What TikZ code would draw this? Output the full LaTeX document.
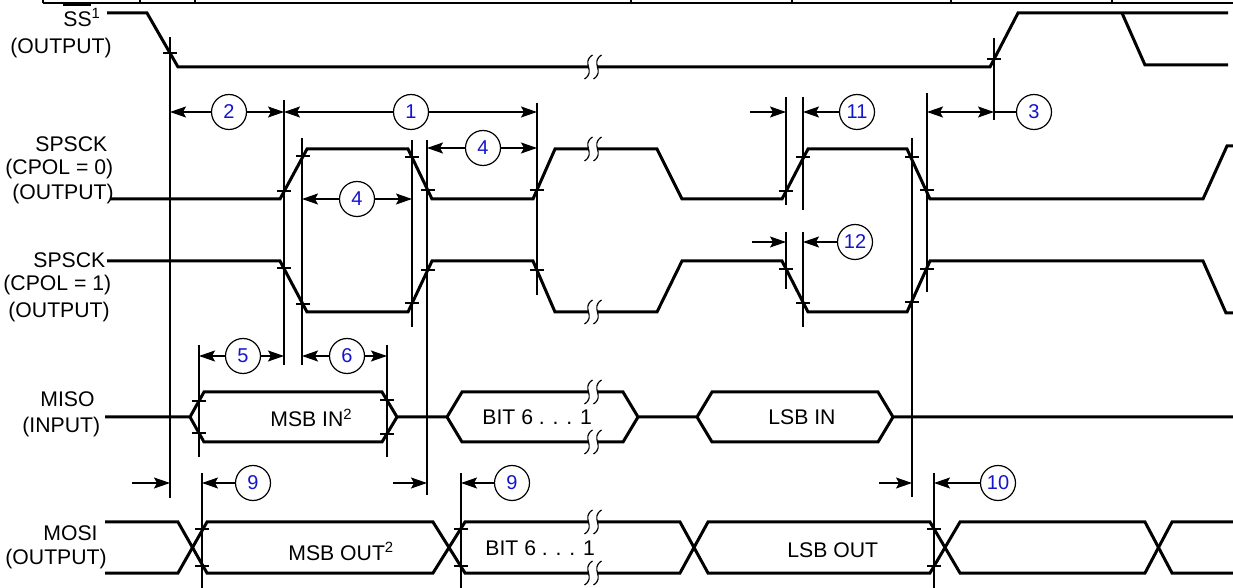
\documentclass[tikz,border=0pt]{standalone}
\usepackage{fontspec}
\setmainfont{Liberation Sans}
\usetikzlibrary{arrows.meta}
\definecolor{numblue}{RGB}{20,20,205}
\newcommand{\sbreak}[2]{%
  \begin{scope}[shift={(#1,#2)}]
    \fill[white] (-0.5,-12) .. controls (-12.5,-4) and (3.5,4) .. (-8.5,12) -- (0.5,12)
      .. controls (12.5,4) and (-3.5,-4) .. (8.5,-12) -- cycle;
    \draw[line width=0.6pt] (-0.5,-12) .. controls (-12.5,-4) and (3.5,4) .. (-8.5,12);
    \draw[line width=0.6pt] (8.5,-12) .. controls (-3.5,-4) and (12.5,4) .. (0.5,12);
  \end{scope}}

\begin{document}
\begin{tikzpicture}[x=0.5pt,y=-0.5pt,>={Stealth[length=8pt,width=5.5pt,inset=1.5pt]},
    font=\fontsize{10.6pt}{12pt}\selectfont,
    sig/.style={line width=1.5pt},
    guide/.style={line width=0.6pt},
    num/.style={circle,draw,line width=0.6pt,minimum size=17.5pt,inner sep=0pt,
      text=numblue,font=\fontsize{10pt}{11pt}\selectfont},
    lbl/.style={anchor=base west,inner sep=0pt}]
  \useasboundingbox (0,0) rectangle (1233,588);
  \draw[line width=0.8pt] (43,3) -- (1233,3);
  \foreach \x in {43,140,195,631,792,951,1112}
    \draw[line width=0.8pt] (\x,0) -- (\x,3);

  \foreach \Name/\Point/\Text in {ssA/{(63,26.5)}/{\makebox[0pt][l]{\rule[10.2pt]{14pt}{1.1pt}}SS\textsuperscript{1}},
      ssB/{(10,54)}/{(OUTPUT)}, ckA/{(35,151.5)}/{SPSCK}, ckB/{(5,175)}/{(CPOL = 0)},
      ckC/{(12,200)}/{(OUTPUT)}, cklA/{(33,268)}/{SPSCK}, cklB/{(3,290.5)}/{(CPOL = 1)},
      cklC/{(8,317.5)}/{(OUTPUT)}, misoA/{(40,406.5)}/{MISO}, misoB/{(22,432.5)}/{(INPUT)},
      mosiA/{(43,540)}/{MOSI}, mosiB/{(5,564)}/{(OUTPUT)},
      msbin/{(270,427)}/{MSB IN\textsuperscript{2}}, bitin/{(482,425)}/{BIT 6 . . . 1},
      lsbin/{(768,425)}/{LSB IN}, msbout/{(288,560)}/{MSB OUT\textsuperscript{2}},
      bitout/{(485,555)}/{BIT 6 . . . 1}, lsbout/{(787,557)}/{LSB OUT}}
    \node[lbl] (\Name) at \Point {\Text};

  \foreach \x/\ya/\yb in {170/37/498, 284/100/365, 302/138/365, 199/345/457, 387/345/457,
      412/140/327, 427/140/495, 537/103/295, 786/97/205, 786/232/289, 803/97/210,
      803/232/327, 912/138/497, 927/93/292, 994/38/120, 202/473/588, 461/473/588, 934/473/588}
    \draw[guide] (\x,\ya) -- (\x,\yb);
  \foreach \Point in {(170,53),(994,59),(284,191),(303,156),(412,157),(428,190),(537,190),
      (786,191),(803,157),(912,157),(927,190),(284,268),(303,304),(412,303),(428,270),
      (537,270),(786,269),(803,303),(912,302),(927,269),(199,401),(199,433),(387,400),
      (387,434),(202,529),(202,566),(461,529),(461,566),(934,529),(934,566)}
    \draw[guide] \Point ++(-7,0) -- ++(14,0);

  \draw[sig] (107,13) -- (147,13) -- (178,67) -- (990,67) -- (1018,13) -- (1228,13);
  \draw[sig] (1122,13) -- (1145,65) -- (1228,65);
  \draw[sig] (110,199) -- (280,199) -- (307,149) -- (408,149) -- (432,199) -- (533,199)
    -- (555,149) -- (657,149) -- (682,199) -- (782,199) -- (808,149) -- (907,149)
    -- (930,199) -- (1203,199) -- (1227,146) -- (1233,146);
  \draw[sig] (107,261) -- (280,261) -- (307,312) -- (408,312) -- (432,261) -- (533,261)
    -- (555,312) -- (657,312) -- (682,261) -- (782,261) -- (808,312) -- (907,312)
    -- (930,261) -- (1203,261) -- (1226,313) -- (1233,313);
  \draw[sig] (105,417) -- (190,417) -- (204,392) -- (382,392) -- (397,417) -- (447,417)
    -- (462,392) -- (623,392) -- (638,417) -- (697,417) -- (712,392) -- (878,392)
    -- (893,417) -- (1233,417);
  \draw[sig] (190,417) -- (204,442) -- (382,442) -- (397,417);
  \draw[sig] (447,417) -- (462,442) -- (623,442) -- (638,417);
  \draw[sig] (697,417) -- (712,442) -- (878,442) -- (893,417);
  \draw[sig] (105,522) -- (178,522) -- (207,573) -- (433,573) -- (465,522) -- (680,522)
    -- (708,573) -- (930,573) -- (960,522) -- (1145,522) -- (1172,573) -- (1233,573);
  \draw[sig] (105,573) -- (178,573) -- (207,522) -- (433,522) -- (465,573) -- (680,573)
    -- (708,522) -- (930,522) -- (960,573) -- (1145,573) -- (1172,522) -- (1233,522);
  \foreach \y in {67,149,312,392,442,522,573}
    \sbreak{593}{\y};

  \foreach \Name/\Point/\Label in {n1/{(411,112)}/1, n2/{(229,112)}/2, n3/{(1034,112)}/3,
      n4a/{(483,148)}/4, n4b/{(357,199)}/4, n5/{(243,356)}/5, n6/{(347,356)}/6,
      n9a/{(253,483)}/9, n9b/{(512,483)}/9, n10/{(998,483)}/10, n11/{(857,112)}/11,
      n12/{(855,242)}/12}
    \node[num] (\Name) at \Point {\Label};
  \coordinate (t2l) at (170,112);  \coordinate (t2r) at (284,112);
  \coordinate (t1r) at (537,112);
  \coordinate (t4al) at (427,148); \coordinate (t4ar) at (537,148);
  \coordinate (t4bl) at (302,199); \coordinate (t4br) at (412,199);
  \coordinate (t5l) at (199,356);  \coordinate (t5r) at (284,356);
  \coordinate (t6l) at (302,356);  \coordinate (t6r) at (387,356);
  \coordinate (t3l) at (927,112);  \coordinate (t3r) at (994,112);
  \coordinate (s11) at (750,112);  \coordinate (t11a) at (786,112); \coordinate (t11b) at (803,112);
  \coordinate (s12) at (752,242);  \coordinate (t12a) at (786,242); \coordinate (t12b) at (803,242);
  \coordinate (s9a) at (132,483);  \coordinate (t9a) at (170,483);  \coordinate (u9a) at (202,483);
  \coordinate (s9b) at (393,483);  \coordinate (t9b) at (427,483);  \coordinate (u9b) at (461,483);
  \coordinate (s10) at (879,483);  \coordinate (t10) at (912,483);  \coordinate (u10) at (934,483);

  \draw[guide,->] (n2) -- (t2l);   \draw[guide,->] (n2) -- (t2r);
  \draw[guide,->] (n1) -- (t2r);   \draw[guide,->] (n1) -- (t1r);
  \draw[guide,->] (n4a) -- (t4al); \draw[guide,->] (n4a) -- (t4ar);
  \draw[guide,->] (n4b) -- (t4bl); \draw[guide,->] (n4b) -- (t4br);
  \draw[guide,->] (n5) -- (t5l);   \draw[guide,->] (n5) -- (t5r);
  \draw[guide,->] (n6) -- (t6l);   \draw[guide,->] (n6) -- (t6r);
  \draw[guide,<->] (t3l) -- (t3r); \draw[guide] (t3r) -- (n3);
  \draw[guide,->] (s11) -- (t11a); \draw[guide,->] (n11) -- (t11b);
  \draw[guide,->] (s12) -- (t12a); \draw[guide,->] (n12) -- (t12b);
  \draw[guide,->] (s9a) -- (t9a);  \draw[guide,->] (n9a) -- (u9a);
  \draw[guide,->] (s9b) -- (t9b);  \draw[guide,->] (n9b) -- (u9b);
  \draw[guide,->] (s10) -- (t10);  \draw[guide,->] (n10) -- (u10);
\end{tikzpicture}
\end{document}
